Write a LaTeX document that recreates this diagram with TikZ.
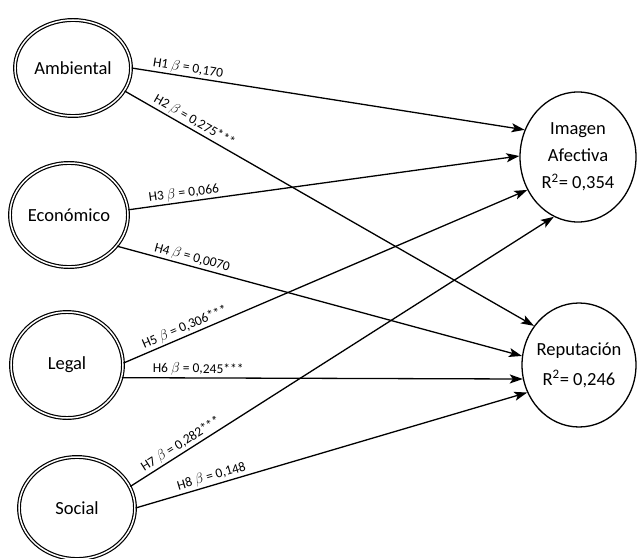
\documentclass[tikz,border=0pt]{standalone}
\usepackage{fontspec}
\setmainfont{Carlito}
\usepackage{tikz}
\usetikzlibrary{positioning}
\usetikzlibrary{shapes.geometric}
\usetikzlibrary{arrows.meta}

\newcommand{\bigtxt}{\fontsize{18.5}{27}\selectfont}
\newcommand{\smalltxt}{\fontsize{13.5}{15}\selectfont}

\tikzset{
  construct/.style={ellipse, draw, double, double distance=1.5pt, line width=1.2pt, inner sep=0pt},
  outcome/.style={ellipse, draw, line width=1.3pt, inner sep=0pt},
  name txt/.style={font=\bigtxt, align=center, inner sep=0pt},
  path/.style={-{Stealth[length=13pt,width=9pt,inset=3pt]}, line width=1.3pt},
  coef/.style={above, sloped, font=\smalltxt, inner sep=1.5pt}
}

\begin{document}
\begin{tikzpicture}[x=1pt, y=-1pt]
\useasboundingbox (0,0) rectangle (637,559);

\node[construct, minimum width=116, minimum height=96] (amb) at (73,68) {};
\node[construct, minimum width=118, minimum height=104] (eco) at (69,215) {};
\node[construct, minimum width=112, minimum height=106] (leg) at (67,365) {};
\node[construct, minimum width=116, minimum height=102] (soc) at (77,508) {};

\node[name txt] (ambtxt) at (amb) {Ambiental};
\node[name txt] (ecotxt) at (eco) {Económico};
\node[name txt] (legtxt) at (leg) {Legal};
\node[name txt] (soctxt) at (soc) {Social};

\node[outcome, minimum width=116, minimum height=130] (img) at (578,157) {};
\node[outcome, minimum width=114, minimum height=124] (rep) at (579,365) {};

\node[name txt] (imgtxt) at (img) {Imagen\\Afectiva\\R\textsuperscript{2}= 0,354};
\node[name txt] (reptxt) at (rep) {Reputación\\[3pt]R\textsuperscript{2}= 0,246};

\draw[path] (amb.0) -- (img.153) node[coef, pos=0.14] {H1 $\beta$ = 0,170};
\draw[path] (amb.336) -- (rep.139) node[coef, pos=0.16] {H2 $\beta$ = 0,275***};
\draw[path] (eco.5) -- (img.179) node[coef, pos=0.145] {H3 $\beta$ = 0,066};
\draw[path] (eco.327) -- (rep.171) node[coef, pos=0.18] {H4 $\beta$ = 0,0070};
\draw[path] (leg.2) -- (img.213) node[coef, pos=0.16] {H5 $\beta$ = 0,306***};
\draw[path] (leg.347) -- (rep.194) node[coef, pos=0.19] {H6 $\beta$ = 0,245***};
\draw[path] (soc.22) -- (img.248) node[coef, pos=0.13] {H7 $\beta$ = 0,282***};
\draw[path] (soc.0) -- (rep.208) node[coef, pos=0.2] {H8 $\beta$ = 0,148};
\end{tikzpicture}
\end{document}
